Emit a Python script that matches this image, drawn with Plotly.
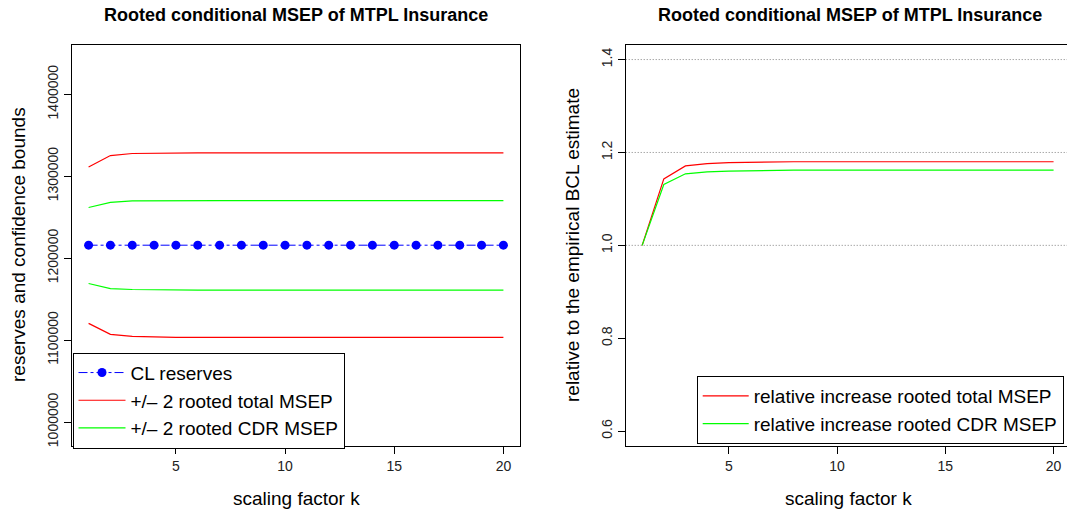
import plotly.graph_objects as go

W, H = 1067, 512

k = list(range(1, 21))
cl_reserves = [1215800] * 20
upper_total = [1311300, 1325200, 1327700, 1328200, 1328400] + [1328500] * 15
lower_total = [1120400, 1107000, 1104500, 1103700, 1103400] + [1103300] * 15
upper_cdr = [1261800, 1268000, 1269900, 1270200] + [1270300] * 16
lower_cdr = [1169000, 1162900, 1161700, 1161200] + [1161000] * 16

rel_total = [1.0, 1.143, 1.171, 1.176, 1.178, 1.179] + [1.180] * 14
rel_cdr = [1.0, 1.131, 1.154, 1.158, 1.160, 1.161] + [1.162] * 14

left_yticks = [1000000, 1100000, 1200000, 1300000, 1400000]
right_yticks = [0.6, 0.8, 1.0, 1.2, 1.4]
right_grid = [1.0, 1.2, 1.4]
xticks = [5, 10, 15, 20]

title_text = "Rooted conditional MSEP of MTPL Insurance"
FONT = "Liberation Sans, Arial, Helvetica, sans-serif"

RED = "#FF0000"
GREEN = "#00FF00"
BLUE = "#0000FF"

fig = go.Figure()

# Left panel
fig.add_trace(go.Scatter(x=k, y=cl_reserves, mode="lines+markers", name="CL reserves",
                         line=dict(color=BLUE, width=1, dash="dashdot"),
                         marker=dict(color=BLUE, size=9), xaxis="x", yaxis="y", legend="legend"))
fig.add_trace(go.Scatter(x=k, y=upper_total, mode="lines", name="+/– 2 rooted total MSEP",
                         line=dict(color=RED, width=1.2), xaxis="x", yaxis="y", legend="legend"))
fig.add_trace(go.Scatter(x=k, y=upper_cdr, mode="lines", name="+/– 2 rooted CDR MSEP",
                         line=dict(color=GREEN, width=1.2), xaxis="x", yaxis="y", legend="legend"))
fig.add_trace(go.Scatter(x=k, y=lower_cdr, mode="lines", showlegend=False,
                         line=dict(color=GREEN, width=1.2), xaxis="x", yaxis="y"))
fig.add_trace(go.Scatter(x=k, y=lower_total, mode="lines", showlegend=False,
                         line=dict(color=RED, width=1.2), xaxis="x", yaxis="y"))

# Right panel
fig.add_trace(go.Scatter(x=k, y=rel_total, mode="lines", name="relative increase rooted total MSEP",
                         line=dict(color=RED, width=1.2), xaxis="x2", yaxis="y2", legend="legend2"))
fig.add_trace(go.Scatter(x=k, y=rel_cdr, mode="lines", name="relative increase rooted CDR MSEP",
                         line=dict(color=GREEN, width=1.2), xaxis="x2", yaxis="y2", legend="legend2"))

for g in right_grid:
    fig.add_shape(type="line", xref="x2 domain", yref="y2", x0=0, x1=1, y0=g, y1=g,
                  line=dict(color="#808080", width=1, dash="1px,2px"), layer="below")

ydom = [1 - 446 / H, 1 - 44.7 / H]
axis_common = dict(showline=True, linecolor="black", linewidth=1, ticks="outside", ticklen=7,
                   tickcolor="black", tickfont=dict(size=14, color="#222"), showgrid=False,
                   zeroline=False)

fig.update_layout(
    width=W, height=H,
    margin=dict(l=0, r=0, t=0, b=0, autoexpand=False),
    paper_bgcolor="white", plot_bgcolor="white",
    font=dict(family=FONT, color="black"),
    xaxis=dict(domain=[72 / W, 520 / W], range=[0.24, 20.76], tickvals=xticks, mirror=True,
               anchor="y", **axis_common),
    yaxis=dict(domain=ydom, range=[970730, 1460490], tickvals=left_yticks,
               ticktext=[str(v) for v in left_yticks], tickangle=-90, mirror=True,
               anchor="x", **axis_common),
    xaxis2=dict(domain=[625.7 / W, 1.0], range=[0.24, 20.62], tickvals=xticks, mirror=True,
                anchor="y2", **axis_common),
    yaxis2=dict(domain=ydom, range=[0.568, 1.432], tickvals=right_yticks,
                ticktext=[f"{v:.1f}" for v in right_yticks], tickangle=-90,
                anchor="x2", **axis_common),
    legend=dict(x=72.5 / W, y=1 - 352.7 / H, xanchor="left", yanchor="top",
                bordercolor="black", borderwidth=1, bgcolor="white", itemwidth=47,
                font=dict(size=19, family=FONT), tracegroupgap=0),
    legend2=dict(x=696.7 / W, y=1 - 376 / H, xanchor="left", yanchor="top",
                 bordercolor="black", borderwidth=1, bgcolor="white", itemwidth=46,
                 font=dict(size=19, family=FONT), tracegroupgap=0),
    showlegend=True,
)

annos = [
    dict(text="<b>" + title_text + "</b>", x=296 / W, y=1 - 15 / H, font=dict(size=18)),
    dict(text="<b>" + title_text + "</b>", x=850 / W, y=1 - 15 / H, font=dict(size=18)),
    dict(text="scaling factor k", x=296 / W, y=1 - 498 / H, font=dict(size=19)),
    dict(text="scaling factor k", x=848 / W, y=1 - 498 / H, font=dict(size=19)),
    dict(text="reserves and confidence bounds", x=18 / W, y=1 - 245 / H, textangle=-90,
         font=dict(size=19)),
    dict(text="relative to the empirical BCL estimate", x=572 / W, y=1 - 245 / H, textangle=-90,
         font=dict(size=19)),
]
for a in annos:
    fig.add_annotation(xref="paper", yref="paper", showarrow=False, xanchor="center",
                       yanchor="middle", **a)

fig.write_html("out.html", config={"displayModeBar": False},
               post_script="document.body.style.margin='0';document.body.style.overflow='hidden';")
